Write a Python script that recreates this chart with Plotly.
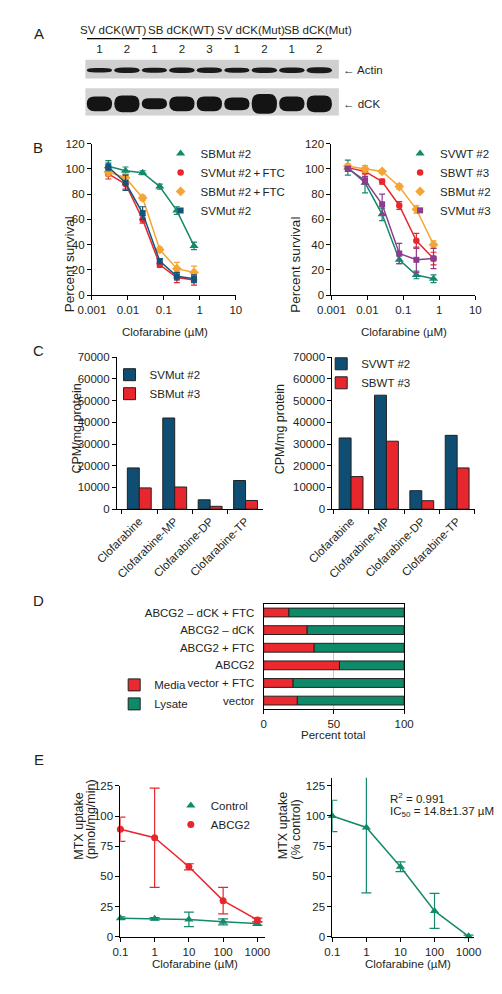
import plotly.graph_objects as go

W, H = 502, 994
FONT = "Liberation Sans, Arial, Helvetica, sans-serif"
TXT = "#231f20"
FS = 11.5

GREEN = "#14896b"
RED = "#e8262d"
ORANGE = "#f6a533"
NAVY = "#15557a"
PURPLE = "#8d3b8e"
BAR_BLUE = "#0f4d73"

# ---------------- A: western blot ----------------
blot_groups = ["SV dCK(WT)", "SB dCK(WT)", "SV dCK(Mut)", "SB dCK(Mut)"]
blot_group_lanes = [[1, 2], [3, 4, 5], [6, 7], [8, 9]]
blot_group_label_at = [1.5, 4.0, 6.5, 8.95]
lanes = [1, 2, 3, 4, 5, 6, 7, 8, 9]
lane_numbers = ["1", "2", "1", "2", "3", "1", "2", "1", "2"]
actin_band = [4.5, 5.5, 5.0, 5.5, 5.5, 5.0, 5.5, 5.5, 6.0]
dck_band = [15, 17, 11, 15, 15, 13, 20, 15, 17]

# ---------------- B: survival curves ----------------
b_conc = [0.00286, 0.0086, 0.0257, 0.077, 0.23, 0.69]
bl_sbmut2 = [102, 98.5, 97, 86, 67, 39]
bl_sbmut2_err = [4.5, 3, 1.5, 2, 3, 3]
bl_svmut2_ftc = [96, 88, 60, 24, 14, 12]
bl_svmut2_ftc_err = [4, 4, 3, 2, 4, 4]
bl_sbmut2_ftc = [97.5, 93, 77, 36, 21, 18]
bl_sbmut2_ftc_err = [3, 3, 2, 2, 5, 5]
bl_svmut2 = [101.5, 89, 65, 27, 15, 13]
bl_svmut2_err = [3, 6, 5, 2, 3, 3]

br_svwt2 = [101, 89, 64, 28, 16, 13]
br_svwt2_err = [6, 8, 5, 3, 3, 3]
br_sbwt3 = [101, 98, 90, 71, 43, 29]
br_sbwt3_err = [1.5, 2, 2, 3, 6, 5]
br_sbmut2 = [102, 100, 98, 86, 68, 40]
br_sbmut2_err = [2, 2.5, 1.5, 2, 3, 3]
br_svmut3 = [100, 91, 72, 33, 28, 29]
br_svmut3_err = [2, 3, 8, 8, 10, 8]

# ---------------- C: metabolites ----------------
c_cats = ["Clofarabine", "Clofarabine-MP", "Clofarabine-DP", "Clofarabine-TP"]
cl_svmut2 = [19000, 42000, 4300, 13200]
cl_sbmut3 = [9800, 10200, 1300, 4000]
cr_svwt2 = [32800, 52500, 8500, 34000]
cr_sbwt3 = [15000, 31300, 3900, 19000]

# ---------------- D: percent total ----------------
d_labels = ["ABCG2 \u2013 dCK + FTC", "ABCG2 \u2013 dCK", "ABCG2 + FTC", "ABCG2",
            "vector + FTC", "vector"]
d_media = [18, 31, 36, 54, 21, 24]
d_lysate = [82, 69, 64, 46, 79, 76]

# ---------------- E: MTX uptake ----------------
e_conc = [0.1, 1, 10, 100, 1000]
e_abcg2 = [89, 82, 58, 30, 14]
e_abcg2_err = [10, 41, 2.5, 11, 1.5]
e_control = [15.5, 15, 14.5, 12.5, 11]
e_control_err = [1, 1, 6, 2.5, 1.5]
e_pct = [100, 90.5, 58, 21.5, 0.5]
e_pct_err = [13, 54, 4, 14.5, 1]


def dx(a, b):
    return [a / W, b / W]


def dy(top, bottom):
    return [1 - bottom / H, 1 - top / H]


def px(p):
    return p / W


def py(p):
    return 1 - p / H


def axstyle(**kw):
    base = dict(showline=True, linecolor="black", linewidth=1, ticks="outside",
                ticklen=4, tickwidth=1, tickcolor="black", showgrid=False,
                zeroline=False, tickfont=dict(size=FS, color=TXT, family=FONT),
                fixedrange=True)
    base.update(kw)
    return base


fig = go.Figure()

# ---- A: lane numbers through the blot axis
fig.add_trace(go.Scatter(x=lanes, y=[30] * len(lanes), mode="text", text=lane_numbers,
                         textfont=dict(size=FS, color=TXT, family=FONT),
                         showlegend=False, hoverinfo="skip", xaxis="x", yaxis="y",
                         cliponaxis=False))


def band_path(xc, yc, w, h, rxf=0.3):
    x0, x1 = xc - w / 2, xc + w / 2
    y0, y1 = yc - h / 2, yc + h / 2
    rx, ry = w * rxf, h * 0.5
    return (f"M{x0 + rx},{y0} L{x1 - rx},{y0} Q{x1},{y0} {x1},{y0 + ry} "
            f"L{x1},{y1 - ry} Q{x1},{y1} {x1 - rx},{y1} L{x0 + rx},{y1} "
            f"Q{x0},{y1} {x0},{y1 - ry} L{x0},{y0 + ry} Q{x0},{y0} {x0 + rx},{y0} Z")


shapes = []
shapes.append(dict(type="rect", xref="x domain", yref="y", x0=0, x1=1, y0=39.5, y1=58.5,
                   fillcolor="#cfcfcf", line=dict(width=0), layer="below"))
shapes.append(dict(type="rect", xref="x domain", yref="y", x0=0, x1=1, y0=68.3, y1=96,
                   fillcolor="#d3d3d3", line=dict(width=0), layer="below"))
for ln, a, d in zip(lanes, actin_band, dck_band):
    shapes.append(dict(type="path", xref="x", yref="y", path=band_path(ln, 50, 0.92, a, 0.35),
                       fillcolor="#1a1a1a", line=dict(width=0)))
    shapes.append(dict(type="path", xref="x", yref="y", path=band_path(ln, 84, 0.92, d, 0.3),
                       fillcolor="#141414", line=dict(width=0)))
for gl in blot_group_lanes:
    shapes.append(dict(type="line", xref="x", yref="y", x0=gl[0] - 0.45, x1=gl[-1] + 0.45,
                       y0=18, y1=18, line=dict(color="black", width=1.3)))

annotations = []
for g, gx in zip(blot_groups, blot_group_label_at):
    annotations.append(dict(text=g, xref="x", yref="y", x=gx, y=9,
                            showarrow=False, font=dict(size=FS, color=TXT)))
annotations.append(dict(text="\u2190 Actin", xref="paper", yref="y", x=px(339), y=50,
                        xanchor="left", showarrow=False, font=dict(size=FS, color=TXT)))
annotations.append(dict(text="\u2190 dCK", xref="paper", yref="y", x=px(339), y=84,
                        xanchor="left", showarrow=False, font=dict(size=FS, color=TXT)))


def add_series(x, y, err, name, color, symbol, size, xa, ya, legend, cap=3, lw=1.5,
               showlegend=True):
    fig.add_trace(go.Scatter(x=x, y=y, mode="lines", line=dict(color=color, width=lw),
                             error_y=dict(type="data", array=err, visible=True, color=color,
                                          thickness=1.2, width=cap),
                             showlegend=False, xaxis=xa, yaxis=ya, cliponaxis=False,
                             hoverinfo="skip"))
    fig.add_trace(go.Scatter(x=x, y=y, mode="markers", name=name,
                             marker=dict(color=color, symbol=symbol, size=size, line=dict(width=0)),
                             xaxis=xa, yaxis=ya, legend=legend, cliponaxis=False,
                             showlegend=showlegend))


# ---- B left
add_series(b_conc, bl_sbmut2, bl_sbmut2_err, "SBMut #2", GREEN, "triangle-up", 8, "x2", "y2", "legend")
add_series(b_conc, bl_svmut2_ftc, bl_svmut2_ftc_err, "SVMut #2\u2009+\u2009FTC", RED, "circle", 6.5, "x2", "y2", "legend")
add_series(b_conc, bl_sbmut2_ftc, bl_sbmut2_ftc_err, "SBMut #2\u2009+\u2009FTC", ORANGE, "diamond", 7.5, "x2", "y2", "legend")
add_series(b_conc, bl_svmut2, bl_svmut2_err, "SVMut #2", NAVY, "square", 6, "x2", "y2", "legend")
# ---- B right
add_series(b_conc, br_svwt2, br_svwt2_err, "SVWT #2", GREEN, "triangle-up", 8, "x3", "y3", "legend2")
add_series(b_conc, br_sbwt3, br_sbwt3_err, "SBWT #3", RED, "circle", 6.5, "x3", "y3", "legend2")
add_series(b_conc, br_sbmut2, br_sbmut2_err, "SBMut #2", ORANGE, "diamond", 7.5, "x3", "y3", "legend2")
add_series(b_conc, br_svmut3, br_svmut3_err, "SVMut #3", PURPLE, "square", 6, "x3", "y3", "legend2")

# ---- C bars
BW = 0.337
for vals, name, color, off, xa, ya, lg in [
    (cl_svmut2, "SVMut #2", BAR_BLUE, -BW, "x4", "y4", "legend3"),
    (cl_sbmut3, "SBMut #3", RED, 0, "x4", "y4", "legend3"),
    (cr_svwt2, "SVWT #2", BAR_BLUE, -BW, "x5", "y5", "legend4"),
    (cr_sbwt3, "SBWT #3", RED, 0, "x5", "y5", "legend4"),
]:
    fig.add_trace(go.Bar(x=c_cats, y=vals, name=name, width=BW, offset=off,
                         marker=dict(color=color, line=dict(color="#222222", width=1)),
                         xaxis=xa, yaxis=ya, legend=lg))

# ---- D stacked horizontal bars
fig.add_trace(go.Bar(y=d_labels, x=d_media, base=0, orientation="h", name="Media",
                     width=0.5, offset=-0.25,
                     marker=dict(color="#ea2a2f", line=dict(color="#222222", width=1)),
                     xaxis="x6", yaxis="y6", legend="legend5"))
fig.add_trace(go.Bar(y=d_labels, x=d_lysate, base=d_media, orientation="h", name="Lysate",
                     width=0.5, offset=-0.25,
                     marker=dict(color="#0f8a69", line=dict(color="#222222", width=1)),
                     xaxis="x6", yaxis="y6", legend="legend5"))

# ---- E
add_series(e_conc, e_control, e_control_err, "Control", GREEN, "triangle-up", 8, "x7", "y7", "legend6", cap=5)
add_series(e_conc, e_abcg2, e_abcg2_err, "ABCG2", RED, "circle", 7, "x7", "y7", "legend6", cap=5)
add_series(e_conc, e_pct, e_pct_err, "% control", GREEN, "triangle-up", 8, "x8", "y8", "legend6",
           cap=5, showlegend=False)

# ---------------- layout ----------------
b_ticks = [0.001, 0.01, 0.1, 1, 10]
b_ticktext = ["0.001", "0.01", "0.1", "1", "10"]
e_ticks = [0.1, 1, 10, 100, 1000]
e_ticktext = ["0.1", "1", "10", "100", "1000"]

layout = dict(
    width=W, height=H, margin=dict(l=0, r=0, t=0, b=0),
    paper_bgcolor="white", plot_bgcolor="rgba(0,0,0,0)",
    font=dict(family=FONT, size=FS, color=TXT),
    barmode="overlay", hovermode=False,
    xaxis=dict(domain=dx(64, 337), range=[0.49, 9.71], visible=False, fixedrange=True),
    yaxis=dict(domain=dy(15, 111), range=[96, 0], visible=False, fixedrange=True),
    xaxis2=axstyle(domain=dx(71, 226), type="log", range=[-3, 1], tickvals=b_ticks,
                   ticktext=b_ticktext, anchor="y2"),
    yaxis2=axstyle(domain=dy(139.3, 292.7), range=[0, 120], tickvals=list(range(0, 121, 20)),
                   anchor="x2"),
    xaxis3=axstyle(domain=dx(329, 484), type="log", range=[-3, 1], tickvals=b_ticks,
                   ticktext=b_ticktext, anchor="y3"),
    yaxis3=axstyle(domain=dy(139.3, 292.7), range=[0, 120], tickvals=list(range(0, 121, 20)),
                   anchor="x3"),
    xaxis4=axstyle(domain=dx(98, 255.6), type="category", range=[-0.63, 3.5],
                   tickson="boundaries", tickangle=-45, anchor="y4"),
    yaxis4=axstyle(domain=dy(355.5, 509.3), range=[0, 70000], tickvals=list(range(0, 70001, 10000)),
                   tickformat="d", anchor="x4"),
    xaxis5=axstyle(domain=dx(330, 483.5), type="category", range=[-0.53, 3.5],
                   tickson="boundaries", tickangle=-45, anchor="y5"),
    yaxis5=axstyle(domain=dy(355.5, 509.3), range=[0, 70000], tickvals=list(range(0, 70001, 10000)),
                   tickformat="d", anchor="x5"),
    xaxis6=axstyle(domain=dx(256, 407.3), range=[0, 100], tickvals=[0, 50, 100],
                   showgrid=True, gridcolor="#c8c8c8", gridwidth=1, mirror=True, anchor="y6"),
    yaxis6=axstyle(domain=dy(605, 712), type="category", range=[5.5, -0.5],
                   ticklen=6, tickcolor="rgba(0,0,0,0)", mirror=True, anchor="x6"),
    xaxis7=axstyle(domain=dx(101.7, 257), type="log", range=[-1, 3.21], tickvals=e_ticks,
                   ticktext=e_ticktext, anchor="y7"),
    yaxis7=axstyle(domain=dy(789.3, 942.3), range=[0, 125], tickvals=list(range(0, 126, 25)),
                   anchor="x7"),
    xaxis8=axstyle(domain=dx(330, 483), type="log", range=[-1, 3.17], tickvals=e_ticks,
                   ticktext=e_ticktext, anchor="y8"),
    yaxis8=axstyle(domain=dy(781.3, 942.3), range=[0, 131.5], tickvals=list(range(0, 126, 25)),
                   anchor="x8"),
)

leg_common = dict(bgcolor="rgba(0,0,0,0)", borderwidth=0, xanchor="left", yanchor="top",
                  font=dict(size=FS, color=TXT, family=FONT), traceorder="normal")
layout["legend"] = dict(leg_common, x=px(145), y=py(134.5))
layout["legend2"] = dict(leg_common, x=px(403), y=py(134.5))
layout["legend3"] = dict(leg_common, x=px(90), y=py(358.5))
layout["legend4"] = dict(leg_common, x=px(318), y=py(347.5))
layout["legend5"] = dict(leg_common, x=px(95), y=py(672.5))
layout["legend6"] = dict(leg_common, x=px(156), y=py(794.5))

for letter, x, y in [("A", 14, 17), ("B", 13, 133), ("C", 13, 349), ("D", 14, 602), ("E", 14, 773)]:
    annotations.append(dict(text=letter, xref="paper", yref="paper", x=px(x), y=py(y),
                            xanchor="center", showarrow=False, font=dict(size=15, color=TXT)))

TS = 12.5


def vtitle(text, x, y, size=TS):
    annotations.append(dict(text=text, xref="paper", yref="paper", x=px(x), y=py(y),
                            textangle=-90, showarrow=False, font=dict(size=size, color=TXT)))


def htitle(text, x, y, size=FS):
    annotations.append(dict(text=text, xref="paper", yref="paper", x=px(x), y=py(y),
                            xanchor="center", showarrow=False, font=dict(size=size, color=TXT)))


vtitle("Percent survival", 37, 211, 13.5)
vtitle("Percent survival", 290, 211, 13.5)
htitle("Clofarabine (\u00b5M)", 150, 322)
htitle("Clofarabine (\u00b5M)", 407, 322)
vtitle("CPM/mg protein", 45, 428)
vtitle("CPM/mg protein", 273, 428)
htitle("Percent total", 331, 746)
vtitle("MTX uptake", 47, 866)
vtitle("(pmol/mg/min)", 60, 866)
vtitle("MTX uptake", 277, 866)
vtitle("(% control)", 290, 866)
htitle("Clofarabine (\u00b5M)", 182, 978)
htitle("Clofarabine (\u00b5M)", 412, 978)
annotations.append(dict(text="R<sup>2</sup> = 0.991", xref="paper", yref="paper", x=px(390),
                        y=py(811), xanchor="left", showarrow=False, font=dict(size=FS, color=TXT)))
annotations.append(dict(text="IC<sub>50</sub> = 14.8\u00b11.37 \u00b5M", xref="paper", yref="paper",
                        x=px(390), y=py(825), xanchor="left", showarrow=False,
                        font=dict(size=FS, color=TXT)))

layout["shapes"] = shapes
layout["annotations"] = annotations
fig.update_layout(**layout)

fig.write_html("out.html", config={"displayModeBar": False},
               post_script="document.body.style.margin='0px';")
